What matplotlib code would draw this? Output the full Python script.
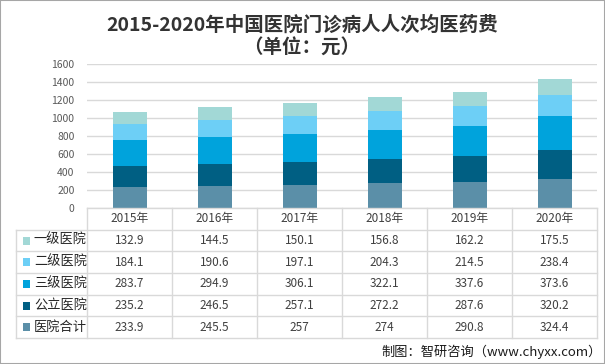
import matplotlib.pyplot as plt
from matplotlib.patches import Rectangle
import numpy as np

plt.rcParams['font.family'] = ['Noto Sans CJK SC', 'DejaVu Sans']

years = ['2015年', '2016年', '2017年', '2018年', '2019年', '2020年']
# bottom to top of the stack
series_names = ['医院合计', '公立医院', '三级医院', '二级医院', '一级医院']
total_hosp = [233.9, 245.5, 257, 274, 290.8, 324.4]
public_hosp = [235.2, 246.5, 257.1, 272.2, 287.6, 320.2]
tier3 = [283.7, 294.9, 306.1, 322.1, 337.6, 373.6]
tier2 = [184.1, 190.6, 197.1, 204.3, 214.5, 238.4]
tier1 = [132.9, 144.5, 150.1, 156.8, 162.2, 175.5]
series_values = [total_hosp, public_hosp, tier3, tier2, tier1]
colors = ['#5b8fa8', '#005f83', '#00a3dc', '#6dcff6', '#a2d8d6']
yticks = [0, 200, 400, 600, 800, 1000, 1200, 1400, 1600]

W, H = 605, 364
fig = plt.figure(figsize=(W / 100, H / 100), dpi=100)

def box(l, t, r, b):
    return [l / W, 1 - b / H, (r - l) / W, (b - t) / H]

grid_c = '#d9d9d9'

# bar chart
ax = fig.add_axes(box(87, 64, 597, 208))
x = np.arange(len(years))
bottom = np.zeros(len(years))
for vals, c in zip(series_values, colors):
    ax.bar(x, vals, 0.4, bottom=bottom, color=c, zorder=3)
    bottom += np.array(vals)
ax.set_xlim(-0.5, len(years) - 0.5)
ax.set_ylim(0, 1600)
ax.set_yticks(yticks)
ax.set_yticklabels([str(v) for v in yticks], fontsize=7.5, color='#595959')
ax.tick_params(axis='y', length=0, pad=9)
ax.set_xticks([])
ax.grid(axis='y', color=grid_c, linewidth=1, zorder=0)
for s in ax.spines.values():
    s.set_visible(False)

# data table
label_w = 71 / 85
tx = fig.add_axes(box(16, 208, 597, 338))
tx.set_xlim(-0.5 - label_w, len(years) - 0.5)
tx.set_ylim(6, 0)
tx.axis('off')
n = len(years)
# horizontal lines
tx.plot([-0.5, n - 0.5], [0, 0], color=grid_c, lw=1, clip_on=False)
for r in range(1, 7):
    tx.plot([-0.5 - label_w, n - 0.5], [r, r], color=grid_c, lw=1, clip_on=False)
# vertical lines
tx.plot([-0.5 - label_w] * 2, [1, 6], color=grid_c, lw=1, clip_on=False)
for i in range(n + 1):
    tx.plot([i - 0.5] * 2, [0, 6], color=grid_c, lw=1, clip_on=False)

for i, yr in enumerate(years):
    tx.text(i, 0.5, yr, ha='center', va='center', fontsize=8.5, color='#404040')

rows = list(zip(series_names, series_values, colors))[::-1]
for r, (name, vals, c) in enumerate(rows, start=1):
    for i, v in enumerate(vals):
        tx.text(i, r + 0.5, f'{v:g}', ha='center', va='center', fontsize=8.5, color='#404040')
    tx.add_patch(Rectangle((-0.5 - label_w + 0.085, r + 0.33), 0.085, 0.36,
                           facecolor=c, edgecolor='none', clip_on=False))
    tx.text(-0.5 - label_w + 0.21, r + 0.5, name, ha='left', va='center',
            fontsize=9.5, color='#262626')

# titles
fig.text(302 / W, 1 - 25 / H, '2015-2020年中国医院门诊病人人次均医药费', ha='center', va='center',
         fontsize=14, fontweight='bold', color='#333333')
fig.text(302 / W, 1 - 48 / H, '（单位：元）', ha='center', va='center',
         fontsize=14, fontweight='bold', color='#333333')

fig.text(602 / W, 1 - 352 / H, '制图：智研咨询（www.chyxx.com）', ha='right', va='center',
         fontsize=9.5, color='#1a1a1a')

fig.patches.append(Rectangle((0, 0), 1, 1, transform=fig.transFigure, fill=False,
                             edgecolor='#a6a6a6', lw=1.5))

fig.savefig('out.png', dpi=100)
